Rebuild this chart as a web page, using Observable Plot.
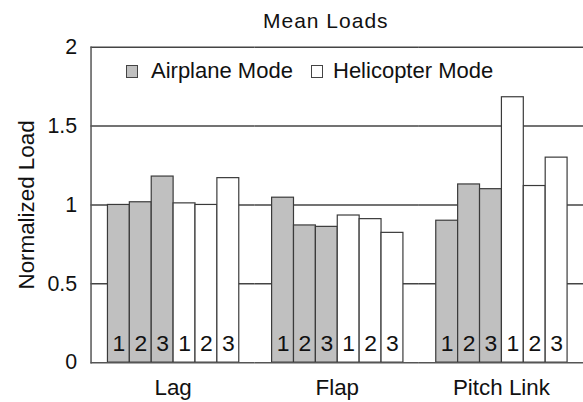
<!DOCTYPE html>
<html>
<head>
<meta charset="utf-8">
<script src="https://cdn.jsdelivr.net/npm/d3@7"></script>
<script src="https://cdn.jsdelivr.net/npm/@observablehq/plot@0.6"></script>
<style>
  html, body { margin: 0; padding: 0; background: #fff; overflow: hidden; }
  #wrap { position: relative; width: 583px; height: 402px; overflow: hidden; font-family: "Liberation Sans", Arial, Helvetica, sans-serif; color: #111; }
  .abs { position: absolute; line-height: 1; white-space: nowrap; }
  .sw { position: absolute; box-sizing: border-box; border: 1.5px solid #444; }
</style>
</head>
<body>
<div id="wrap">
  <div id="chart"></div>
  <div class="abs" style="left:263px; top:10px; font-size:21px; letter-spacing:1px;">Mean Loads</div>
  <div class="sw" style="left:126px; top:65px; width:12px; height:13px; background:#c0c0c0;"></div>
  <div class="abs" style="left:151px; top:59.5px; font-size:22px;">Airplane Mode</div>
  <div class="sw" style="left:311px; top:65px; width:12px; height:13px; background:#fff;"></div>
  <div class="abs" style="left:333px; top:59.5px; font-size:22px;">Helicopter Mode</div>
</div>
<script>
const groups = ["Lag", "Flap", "Pitch Link"];
const bars = ["A1", "A2", "A3", "H1", "H2", "H3"];
const barLabels = ["1", "2", "3", "1", "2", "3"];
const modes = ["Airplane Mode", "Helicopter Mode"];
const lagValues = [1.00, 1.017, 1.18, 1.01, 1.00, 1.17];
const flapValues = [1.046, 0.87, 0.861, 0.933, 0.91, 0.823];
const pitchValues = [0.90, 1.13, 1.10, 1.683, 1.12, 1.30];
const yTicks = [0, 0.5, 1, 1.5, 2];

const seriesByGroup = [lagValues, flapValues, pitchValues];
const data = [];
groups.forEach((g, gi) => {
  bars.forEach((b, bi) => {
    data.push({group: g, bar: b, label: barLabels[bi], mode: bi < 3 ? modes[0] : modes[1], value: seriesByGroup[gi][bi]});
  });
});

const chart = Plot.plot({
  width: 586,
  height: 402,
  marginLeft: 91,
  marginRight: 0,
  marginTop: 47,
  marginBottom: 38,
  style: {fontFamily: "'Liberation Sans', Arial, Helvetica, sans-serif", fontSize: "21px", color: "#111", background: "transparent"},
  fx: {domain: groups, padding: 0, label: null},
  x: {domain: bars, paddingInner: 0, paddingOuter: 0.75, axis: null},
  y: {domain: [0, 2]},
  color: {domain: modes, range: ["#c0c0c0", "#ffffff"]},
  marks: [
    Plot.ruleY(yTicks.slice(1), {stroke: "#444", strokeWidth: 1.5}),
    Plot.barY(data, {fx: "group", x: "bar", y: "value", fill: "mode", stroke: "#3a3a3a", strokeWidth: 1.2}),
    Plot.text(data, {fx: "group", x: "bar", y: 0, text: "label", dy: -19, fontSize: 23, fill: "#111"}),
    Plot.ruleY([0], {stroke: "#555", strokeWidth: 1.5}),
    Plot.frame({anchor: "left", facetAnchor: "left", stroke: "#555", strokeWidth: 1.5}),
    Plot.axisY(yTicks, {tickSize: 0, tickPadding: 14, tickFormat: d => String(d), label: null, fontSize: 21.5}),
    Plot.axisY({ticks: [], tickSize: 0, label: "Normalized Load", labelArrow: "none", labelAnchor: "center", labelOffset: 73, fontSize: 22.5}),
    Plot.axisFx({anchor: "bottom", tickSize: 0, tickPadding: 17, label: null, fontSize: 22.5})
  ]
});
document.getElementById("chart").appendChild(chart);
</script>
</body>
</html>
